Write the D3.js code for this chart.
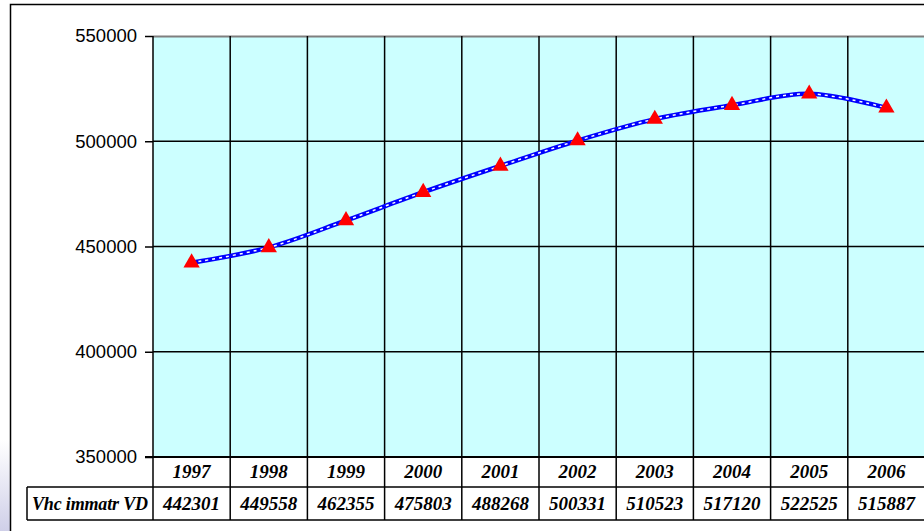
<!DOCTYPE html>
<html>
<head>
<meta charset="utf-8">
<script src="https://cdn.jsdelivr.net/npm/d3@7"></script>
<style>
  body { margin: 0; background: #fff; }
  svg { display: block; }
</style>
</head>
<body>
<div id="chart"></div>
<script>
// data
const years = ["1997", "1998", "1999", "2000", "2001", "2002", "2003", "2004", "2005", "2006"]
const vehicles = [442301, 449558, 462355, 475803, 488268, 500331, 510523, 517120, 522525, 515887]
const seriesName = "Vhc immatr VD"
const yTicks = [350000, 400000, 450000, 500000, 550000]

const svgWidth = 924
const svgHeight = 531

let margin = { top: 36, right: -1, bottom: 74, left: 153 }
let width = svgWidth - margin.left - margin.right
let height = svgHeight - margin.top - margin.bottom
let rowH = 30
let rowH2 = 33

let svg = d3.select("#chart")
  .append("svg")
  .attr("width", svgWidth)
  .attr("height", svgHeight)

// faint slide background at left edge
let grad = svg.append("defs").append("linearGradient")
  .attr("id", "bg").attr("x1", 0).attr("y1", 0).attr("x2", 0).attr("y2", 1)
grad.append("stop").attr("offset", "0%").attr("stop-color", "#ffffff")
grad.append("stop").attr("offset", "100%").attr("stop-color", "#cfcfe8")
svg.append("rect").attr("x", 0).attr("y", 440).attr("width", 10).attr("height", 91).attr("fill", "url(#bg)")

// outer frame
svg.append("rect")
  .attr("x", 10.5).attr("y", 4.5)
  .attr("width", svgWidth).attr("height", svgHeight)
  .attr("fill", "#fff").attr("stroke", "#000").attr("stroke-width", 1.5)

let chartGroup = svg.append("g")
  .attr("transform", `translate(${margin.left}, ${margin.top})`)

let x = d3.scaleBand().domain(years).range([0, width])
let y = d3.scaleLinear().domain([350000, 550000]).range([height, 0])

// plot background
chartGroup.append("rect")
  .attr("width", width).attr("height", height)
  .attr("fill", "#ccffff")

// top border of plot
chartGroup.append("line")
  .attr("x1", 0).attr("x2", width).attr("y1", 0.5).attr("y2", 0.5)
  .attr("stroke", "#7f7f7f").attr("stroke-width", 2)

// horizontal grid
chartGroup.selectAll(".hgrid")
  .data(yTicks.slice(1, -1))
  .enter().append("line")
  .attr("x1", 0).attr("x2", width)
  .attr("y1", d => y(d)).attr("y2", d => y(d))
  .attr("stroke", "#000").attr("stroke-width", 1.5)

// vertical grid (category boundaries), extended through the table
chartGroup.selectAll(".vgrid")
  .data(years.slice(1))
  .enter().append("line")
  .attr("x1", d => x(d)).attr("x2", d => x(d))
  .attr("y1", 0).attr("y2", height + rowH + rowH2)
  .attr("stroke", "#000").attr("stroke-width", 1.5)

// y axis
let leftAxis = d3.axisLeft(y).tickValues(yTicks).tickSize(8).tickFormat(d3.format("d"))
let yAxis = chartGroup.append("g").call(leftAxis)
yAxis.select(".domain").remove()
yAxis.selectAll(".tick line").attr("stroke", "#000").attr("stroke-width", 1.5)
yAxis.selectAll(".tick text")
  .attr("x", -16)
  .attr("font-family", "Liberation Sans, Arial, sans-serif")
  .attr("font-size", "18.5px")
  .attr("fill", "#000")
chartGroup.append("line")
  .attr("x1", 0).attr("x2", 0).attr("y1", 0).attr("y2", height + rowH + rowH2)
  .attr("stroke", "#000").attr("stroke-width", 1.5)

// x axis line
chartGroup.append("line")
  .attr("x1", -8).attr("x2", width).attr("y1", height).attr("y2", height)
  .attr("stroke", "#000").attr("stroke-width", 2)

// data table
let tableFont = "Liberation Serif, Times New Roman, serif"
chartGroup.selectAll(".yearLabel")
  .data(years)
  .enter().append("text")
  .attr("x", d => x(d) + x.bandwidth() / 2)
  .attr("y", height + 21)
  .attr("text-anchor", "middle")
  .attr("font-family", tableFont)
  .attr("font-style", "italic").attr("font-weight", "bold")
  .attr("font-size", "19px")
  .text(d => d)

chartGroup.append("line")
  .attr("x1", 27 - margin.left).attr("x2", width)
  .attr("y1", height + rowH).attr("y2", height + rowH)
  .attr("stroke", "#000").attr("stroke-width", 1.5)
chartGroup.append("line")
  .attr("x1", 27 - margin.left).attr("x2", width)
  .attr("y1", height + rowH + rowH2).attr("y2", height + rowH + rowH2)
  .attr("stroke", "#000").attr("stroke-width", 1.5)
chartGroup.append("line")
  .attr("x1", 27 - margin.left).attr("x2", 27 - margin.left)
  .attr("y1", height + rowH).attr("y2", height + rowH + rowH2)
  .attr("stroke", "#000").attr("stroke-width", 1.5)

chartGroup.append("text")
  .attr("x", (27 - margin.left) / 2)
  .attr("y", height + rowH + 23)
  .attr("text-anchor", "middle")
  .attr("font-family", tableFont)
  .attr("font-style", "italic").attr("font-weight", "bold")
  .attr("font-size", "18px")
  .attr("textLength", 116)
  .text(seriesName)

chartGroup.selectAll(".valLabel")
  .data(vehicles)
  .enter().append("text")
  .attr("x", (d, i) => x(years[i]) + x.bandwidth() / 2)
  .attr("y", height + rowH + 23)
  .attr("text-anchor", "middle")
  .attr("font-family", tableFont)
  .attr("font-style", "italic").attr("font-weight", "bold")
  .attr("font-size", "19px")
  .text(d => d)

// line
let line = d3.line()
  .x((d, i) => x(years[i]) + x.bandwidth() / 2)
  .y(d => y(d))
  .curve(d3.curveCatmullRom)

chartGroup.append("path")
  .datum(vehicles)
  .attr("d", line)
  .attr("fill", "none")
  .attr("stroke", "#0000ff")
  .attr("stroke-width", 4.5)
chartGroup.append("path")
  .datum(vehicles)
  .attr("d", line)
  .attr("fill", "none")
  .attr("stroke", "#fff")
  .attr("stroke-width", 1.5)
  .attr("stroke-dasharray", "3,4")

// markers
chartGroup.selectAll(".marker")
  .data(vehicles)
  .enter().append("path")
  .attr("d", d3.symbol().type(d3.symbolTriangle).size(115))
  .attr("transform", (d, i) => `translate(${x(years[i]) + x.bandwidth() / 2}, ${y(d)})`)
  .attr("fill", "#ff0000")
</script>
</body>
</html>
